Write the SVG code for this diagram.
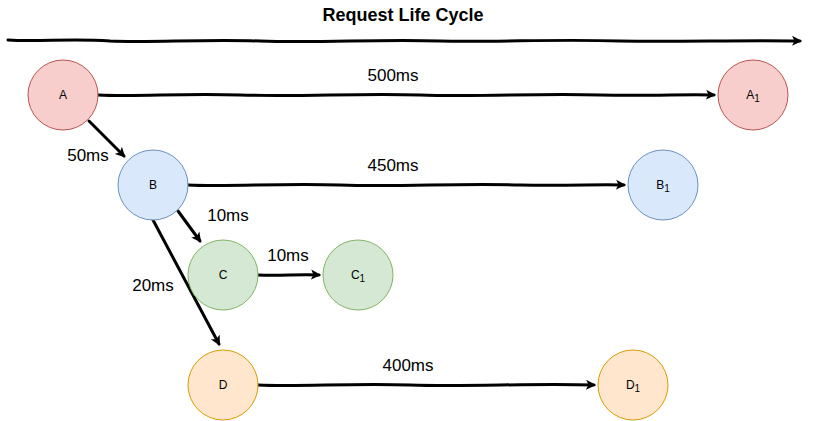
<svg xmlns="http://www.w3.org/2000/svg" width="818" height="421" viewBox="0 0 818 421">
<style>
.n{stroke-width:1}
.lbl{font-family:"Liberation Sans",Arial,sans-serif;font-size:12px;fill:#000;text-anchor:middle}
.sub{font-size:10px}
.e{fill:none;stroke:#000;stroke-width:3;stroke-linecap:round;stroke-linejoin:round}
.el{font-family:"Liberation Sans",Arial,sans-serif;font-size:17px;fill:#000;text-anchor:middle}
.title{font-family:"Liberation Sans",Arial,sans-serif;font-size:18px;font-weight:bold;fill:#000;text-anchor:middle}
.red{fill:#f8cecc;stroke:#b85450}
.blue{fill:#dae8fc;stroke:#6c8ebf}
.green{fill:#d5e8d4;stroke:#82b366}
.orange{fill:#ffe6cc;stroke:#d79b00}
</style>
<defs>
<marker id="ah" markerWidth="12" markerHeight="12" refX="8" refY="6" orient="auto" markerUnits="userSpaceOnUse">
<path d="M0,1 L10,6 L0,11 L2.5,6 Z" fill="#000"/>
</marker>
</defs>
<text class="title" x="403" y="21">Request Life Cycle</text>
<g id="connectors">
<path class="e" marker-end="url(#ah)" d="M8,40 C40,42 70,38 110,41 C150,43 200,39 260,41 C320,43 380,39 440,41 C500,42 560,39 620,41 C680,42 740,40 800,41"/>
<path class="e" marker-end="url(#ah)" d="M98,95 C140,97 180,93 240,95 C300,97 360,93 420,95 C480,97 540,93 600,95 C650,96 690,94 714,95"/>
<path class="e" marker-end="url(#ah)" d="M89,121 L124,156"/>
<path class="e" marker-end="url(#ah)" d="M188,185 C230,187 280,183 340,185 C400,187 460,183 520,185 C570,186 600,184 624,185"/>
<path class="e" marker-end="url(#ah)" d="M178,211 L200,241"/>
<path class="e" marker-end="url(#ah)" d="M258,275 C280,276 300,274 319,275"/>
<path class="e" marker-end="url(#ah)" d="M153,220 L219,344"/>
<path class="e" marker-end="url(#ah)" d="M258,385 C300,387 350,383 410,385 C470,387 530,383 594,385"/>
</g>
<g id="edge-labels">
<text class="el" x="393" y="81">500ms</text>
<text class="el" x="88" y="161">50ms</text>
<text class="el" x="393" y="171">450ms</text>
<text class="el" x="228" y="221">10ms</text>
<text class="el" x="288" y="261">10ms</text>
<text class="el" x="153" y="291">20ms</text>
<text class="el" x="408" y="371">400ms</text>
</g>
<g id="A"><circle class="red" cx="63" cy="95" r="35"/><text class="lbl" x="63" y="99">A</text></g>
<g id="A1"><circle class="red" cx="753" cy="95" r="35"/><text class="lbl" x="753" y="99">A<tspan class="sub" dy="3">1</tspan></text></g>
<g id="B"><circle class="blue" cx="153" cy="185" r="35"/><text class="lbl" x="153" y="189">B</text></g>
<g id="B1"><circle class="blue" cx="663" cy="185" r="35"/><text class="lbl" x="663" y="189">B<tspan class="sub" dy="3">1</tspan></text></g>
<g id="C"><circle class="green" cx="223" cy="275" r="35"/><text class="lbl" x="223" y="279">C</text></g>
<g id="C1"><circle class="green" cx="358" cy="275" r="35"/><text class="lbl" x="358" y="279">C<tspan class="sub" dy="3">1</tspan></text></g>
<g id="D"><circle class="orange" cx="223" cy="385" r="35"/><text class="lbl" x="223" y="389">D</text></g>
<g id="D1"><circle class="orange" cx="633" cy="385" r="35"/><text class="lbl" x="633" y="389">D<tspan class="sub" dy="3">1</tspan></text></g>
</svg>
